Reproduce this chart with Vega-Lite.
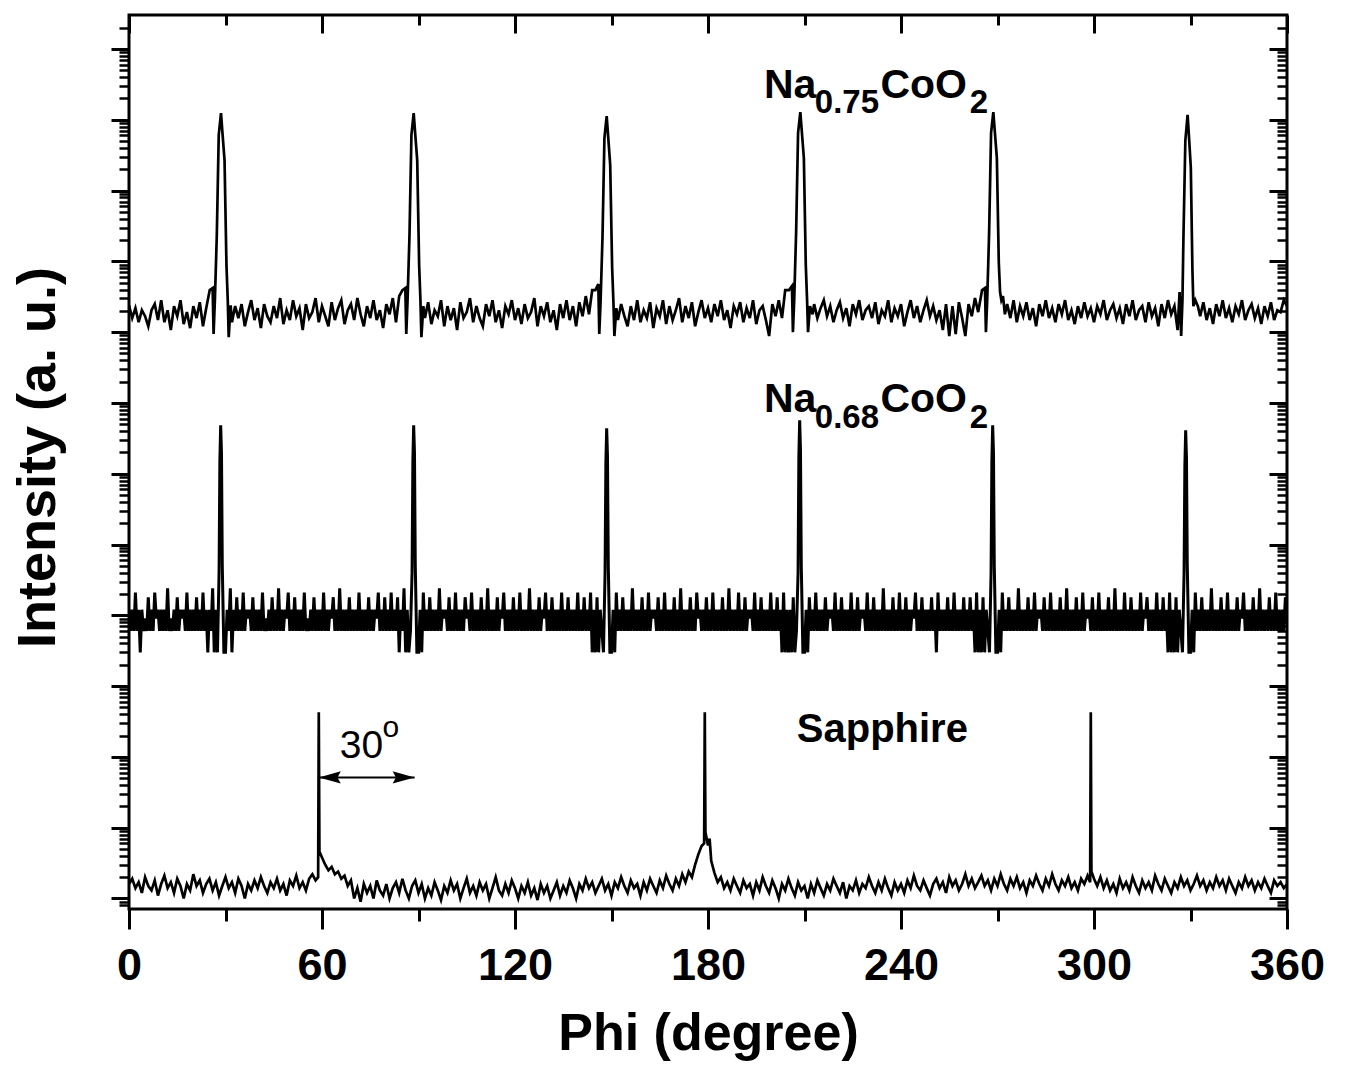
{
"$schema": "https://vega.github.io/schema/vega-lite/v6.json",
"width": 1158, "height": 894,
"autosize": {"type": "none"},
"padding": {"left": 129, "top": 15, "right": 58, "bottom": 157},
"background": "white",
"config": {"view": {"stroke": "black", "strokeWidth": 3}, "font": "Liberation Sans",
  "axis": {"labelFont": "Liberation Sans", "titleFont": "Liberation Sans", "tickColor": "black", "labelColor": "black", "titleColor": "black", "grid": false, "domain": false, "tickCap": "butt"}},
"resolve": {"axis": {"x": "independent", "y": "independent"}},
"datasets": {
"a": [{"x":0,"y":2.4e8},{"x":1,"y":1.58e8},{"x":2,"y":2.18e8},{"x":3,"y":1.38e8},{"x":4,"y":2.04e8},{"x":5,"y":1.68e8},{"x":6,"y":1.21e8},{"x":7,"y":2.04e8},{"x":8,"y":2.49e8},{"x":9,"y":1.48e8},{"x":10,"y":2.83e8},{"x":11,"y":1.38e8},{"x":12,"y":2.04e8},{"x":13,"y":1.07e8},{"x":14,"y":2.33e8},{"x":15,"y":1.68e8},{"x":16,"y":2.83e8},{"x":17,"y":1.3e8},{"x":18,"y":1.92e8},{"x":19,"y":1.14e8},{"x":20,"y":2.33e8},{"x":21,"y":1.58e8},{"x":22,"y":2.65e8},{"x":23,"y":1.21e8},{"x":24,"y":2.18e8},
{"x":25.1,"y":3.93e8},{"x":26,"y":4.19e8},{"x":26.3,"y":9.4e7},{"x":26.7,"y":2.83e8},{"x":27.3,"y":2.35e9},{"x":27.9,"y":6.1e10},{"x":28.6,"y":1.245e11},{"x":29.1,"y":6.1e10},{"x":29.7,"y":2.7e10},{"x":30.3,"y":8.85e8},{"x":30.7,"y":2.83e8},{"x":31,"y":8.5e7},{"x":31.6,"y":2.4e8},
{"x":32,"y":1.38e8},{"x":33,"y":2.33e8},{"x":34,"y":1.58e8},{"x":35,"y":2.49e8},{"x":36,"y":1.21e8},{"x":37,"y":1.92e8},{"x":38,"y":2.83e8},{"x":39,"y":1.48e8},{"x":40,"y":2.18e8},{"x":41,"y":1.14e8},{"x":42,"y":2.49e8},{"x":43,"y":1.68e8},{"x":44,"y":1.38e8},{"x":45,"y":2.33e8},{"x":46,"y":1.58e8},{"x":47,"y":3.03e8},{"x":48,"y":1.3e8},{"x":49,"y":2.04e8},{"x":50,"y":1.48e8},{"x":51,"y":2.83e8},{"x":52,"y":1.68e8},{"x":53,"y":2.18e8},{"x":54,"y":1.07e8},{"x":55,"y":2.49e8},{"x":56,"y":1.58e8},{"x":57,"y":1.92e8},{"x":58,"y":3.03e8},{"x":59,"y":1.38e8},{"x":60,"y":2.33e8},{"x":61,"y":1.68e8},{"x":62,"y":1.21e8},{"x":63,"y":2.65e8},{"x":64,"y":1.48e8},{"x":65,"y":2.18e8},{"x":66,"y":2.83e8},{"x":67,"y":1.3e8},{"x":68,"y":2.04e8},{"x":69,"y":2.49e8},{"x":70,"y":1.48e8},{"x":71,"y":3.03e8},{"x":72,"y":1.79e8},{"x":73,"y":1.21e8},{"x":74,"y":2.33e8},{"x":75,"y":1.58e8},{"x":76,"y":2.83e8},{"x":77,"y":1.48e8},{"x":78,"y":2.04e8},{"x":79,"y":1.14e8},{"x":80,"y":2.49e8},{"x":81,"y":1.79e8},{"x":82,"y":3.03e8},{"x":83,"y":1.38e8},{"x":84,"y":3.23e8},
{"x":85,"y":3.93e8},{"x":85.9,"y":4.19e8},{"x":86.2,"y":9.4e7},{"x":86.6,"y":2.83e8},{"x":87.2,"y":2.35e9},{"x":87.8,"y":6.1e10},{"x":88.5,"y":1.245e11},{"x":89,"y":6.1e10},{"x":89.6,"y":2.7e10},{"x":90.2,"y":8.85e8},{"x":90.6,"y":2.83e8},{"x":90.9,"y":8.5e7},{"x":91.5,"y":2.33e8},
{"x":92,"y":1.58e8},{"x":93,"y":2.65e8},{"x":94,"y":1.3e8},{"x":95,"y":2.04e8},{"x":96,"y":1.68e8},{"x":97,"y":2.83e8},{"x":98,"y":1.21e8},{"x":99,"y":2.33e8},{"x":100,"y":1.48e8},{"x":101,"y":2.18e8},{"x":102,"y":1.07e8},{"x":103,"y":2.65e8},{"x":104,"y":1.58e8},{"x":105,"y":1.92e8},{"x":106,"y":3.03e8},{"x":107,"y":1.38e8},{"x":108,"y":2.33e8},{"x":109,"y":1.58e8},{"x":110,"y":1.21e8},{"x":111,"y":2.49e8},{"x":112,"y":1.68e8},{"x":113,"y":2.83e8},{"x":114,"y":1.38e8},{"x":115,"y":2.04e8},{"x":116,"y":1.14e8},{"x":117,"y":2.33e8},{"x":118,"y":1.79e8},{"x":119,"y":2.83e8},{"x":120,"y":1.48e8},{"x":121,"y":2.18e8},{"x":122,"y":1.3e8},{"x":123,"y":2.49e8},{"x":124,"y":1.58e8},{"x":125,"y":1.92e8},{"x":126,"y":3.03e8},{"x":127,"y":1.21e8},{"x":128,"y":2.33e8},{"x":129,"y":1.68e8},{"x":130,"y":2.65e8},{"x":131,"y":1.38e8},{"x":132,"y":2.04e8},{"x":133,"y":1.07e8},{"x":134,"y":2.49e8},{"x":135,"y":1.58e8},{"x":136,"y":2.83e8},{"x":137,"y":1.48e8},{"x":138,"y":2.33e8},{"x":139,"y":1.21e8},{"x":140,"y":2.65e8},{"x":141,"y":1.68e8},{"x":142,"y":3.23e8},{"x":143,"y":1.79e8},{"x":144,"y":3.93e8},
{"x":145,"y":3.93e8},{"x":145.9,"y":4.78e8},{"x":146.2,"y":9.4e7},{"x":146.6,"y":2.65e8},{"x":147.2,"y":2.2e9},{"x":147.8,"y":5.5e10},{"x":148.5,"y":1.13e11},{"x":149,"y":5.5e10},{"x":149.6,"y":2.3e10},{"x":150.2,"y":8.1e8},{"x":150.6,"y":2.65e8},{"x":150.9,"y":8.8e7},{"x":151.5,"y":2.18e8},
{"x":152,"y":1.48e8},{"x":153,"y":2.49e8},{"x":154,"y":1.68e8},{"x":155,"y":1.21e8},{"x":156,"y":2.33e8},{"x":157,"y":1.48e8},{"x":158,"y":2.83e8},{"x":159,"y":1.38e8},{"x":160,"y":2.04e8},{"x":161,"y":1.58e8},{"x":162,"y":2.65e8},{"x":163,"y":1.14e8},{"x":164,"y":2.18e8},{"x":165,"y":1.68e8},{"x":166,"y":2.83e8},{"x":167,"y":1.3e8},{"x":168,"y":2.33e8},{"x":169,"y":1.48e8},{"x":170,"y":2.04e8},{"x":171,"y":3.03e8},{"x":172,"y":1.38e8},{"x":173,"y":2.33e8},{"x":174,"y":1.58e8},{"x":175,"y":2.65e8},{"x":176,"y":1.21e8},{"x":177,"y":1.92e8},{"x":178,"y":2.83e8},{"x":179,"y":1.58e8},{"x":180,"y":2.18e8},{"x":181,"y":1.38e8},{"x":182,"y":2.49e8},{"x":183,"y":1.68e8},{"x":184,"y":2.83e8},{"x":185,"y":1.48e8},{"x":186,"y":2.04e8},{"x":187,"y":1.14e8},{"x":188,"y":2.33e8},{"x":189,"y":1.79e8},{"x":190,"y":2.65e8},{"x":191,"y":1.38e8},{"x":192,"y":2.18e8},{"x":193,"y":1.58e8},{"x":194,"y":2.83e8},{"x":195,"y":1.3e8},{"x":196,"y":2.04e8},{"x":197,"y":2.33e8},{"x":198,"y":1.48e8},{"x":199,"y":8.8e7},{"x":200,"y":2.49e8},{"x":201,"y":1.68e8},{"x":202,"y":2.83e8},{"x":203,"y":1.58e8},{"x":204,"y":3.93e8},
{"x":205.2,"y":3.93e8},{"x":206.1,"y":4.48e8},{"x":206.4,"y":1.0e8},{"x":206.8,"y":2.83e8},{"x":207.4,"y":2.6e9},{"x":208,"y":6.5e10},{"x":208.7,"y":1.285e11},{"x":209.2,"y":6.5e10},{"x":209.8,"y":2.9e10},{"x":210.4,"y":8.85e8},{"x":210.8,"y":2.83e8},{"x":211.1,"y":1.0e8},{"x":211.7,"y":2.33e8},
{"x":212.5,"y":1.79e8},{"x":213,"y":2.49e8},{"x":214,"y":1.58e8},{"x":215,"y":2.18e8},{"x":216,"y":2.83e8},{"x":217,"y":1.68e8},{"x":218,"y":2.33e8},{"x":219,"y":1.38e8},{"x":220,"y":2.04e8},{"x":221,"y":2.65e8},{"x":222,"y":1.58e8},{"x":223,"y":2.18e8},{"x":224,"y":1.21e8},{"x":225,"y":2.49e8},{"x":226,"y":1.79e8},{"x":227,"y":2.83e8},{"x":228,"y":1.48e8},{"x":229,"y":2.04e8},{"x":230,"y":2.33e8},{"x":231,"y":1.58e8},{"x":232,"y":2.65e8},{"x":233,"y":1.3e8},{"x":234,"y":2.04e8},{"x":235,"y":1.68e8},{"x":236,"y":2.83e8},{"x":237,"y":1.38e8},{"x":238,"y":2.18e8},{"x":239,"y":1.68e8},{"x":240,"y":2.49e8},{"x":241,"y":1.21e8},{"x":242,"y":1.92e8},{"x":243,"y":2.83e8},{"x":244,"y":1.58e8},{"x":245,"y":2.33e8},{"x":246,"y":1.38e8},{"x":247,"y":2.04e8},{"x":248,"y":2.83e8},{"x":249,"y":1.68e8},{"x":250,"y":2.33e8},{"x":251,"y":1.48e8},{"x":252,"y":2.04e8},{"x":253,"y":1.07e8},{"x":254,"y":2.49e8},{"x":255,"y":8.8e7},{"x":256,"y":2.33e8},{"x":257,"y":9.4e7},{"x":258,"y":2.65e8},{"x":259,"y":1.58e8},{"x":260,"y":8.8e7},{"x":261,"y":2.49e8},{"x":262,"y":1.68e8},{"x":263,"y":3.03e8},{"x":264,"y":1.92e8},
{"x":265.2,"y":3.93e8},{"x":266.1,"y":4.19e8},{"x":266.4,"y":1.0e8},{"x":266.8,"y":2.83e8},{"x":267.4,"y":2.6e9},{"x":268,"y":6.5e10},{"x":268.7,"y":1.285e11},{"x":269.2,"y":6.5e10},{"x":269.8,"y":2.9e10},{"x":270.4,"y":9.7e8},{"x":270.8,"y":3.68e8},{"x":271.2,"y":2.83e8},{"x":271.7,"y":3.23e8},
{"x":272.3,"y":1.79e8},{"x":273,"y":2.49e8},{"x":274,"y":1.58e8},{"x":275,"y":2.83e8},{"x":276,"y":1.38e8},{"x":277,"y":2.33e8},{"x":278,"y":1.68e8},{"x":279,"y":2.65e8},{"x":280,"y":1.48e8},{"x":281,"y":2.18e8},{"x":282,"y":1.21e8},{"x":283,"y":2.49e8},{"x":284,"y":1.68e8},{"x":285,"y":2.83e8},{"x":286,"y":1.58e8},{"x":287,"y":2.18e8},{"x":288,"y":1.38e8},{"x":289,"y":2.49e8},{"x":290,"y":1.79e8},{"x":291,"y":2.83e8},{"x":292,"y":1.48e8},{"x":293,"y":2.04e8},{"x":294,"y":1.3e8},{"x":295,"y":2.33e8},{"x":296,"y":1.58e8},{"x":297,"y":2.65e8},{"x":298,"y":1.68e8},{"x":299,"y":2.18e8},{"x":300,"y":1.38e8},{"x":301,"y":2.33e8},{"x":302,"y":1.79e8},{"x":303,"y":2.83e8},{"x":304,"y":1.48e8},{"x":305,"y":2.04e8},{"x":306,"y":2.49e8},{"x":307,"y":1.58e8},{"x":308,"y":2.18e8},{"x":309,"y":1.3e8},{"x":310,"y":2.49e8},{"x":311,"y":1.68e8},{"x":312,"y":2.83e8},{"x":313,"y":1.48e8},{"x":314,"y":2.04e8},{"x":315,"y":2.33e8},{"x":316,"y":1.38e8},{"x":317,"y":2.65e8},{"x":318,"y":1.68e8},{"x":319,"y":2.18e8},{"x":320,"y":1.21e8},{"x":321,"y":2.49e8},{"x":322,"y":1.58e8},{"x":323,"y":2.83e8},{"x":324,"y":1.79e8},{"x":325,"y":2.33e8},{"x":326,"y":1.07e8},
{"x":326.6,"y":3.68e8},{"x":327.1,"y":8.8e7},{"x":327.5,"y":2.83e8},{"x":327.8,"y":2.1e9},{"x":328.4,"y":5.1e10},{"x":329.1,"y":1.17e11},{"x":329.6,"y":5.1e10},{"x":330.1,"y":2.1e10},{"x":330.6,"y":7.5e8},{"x":330.9,"y":2.33e8},{"x":331.5,"y":2.83e8},
{"x":332.3,"y":2.33e8},{"x":333,"y":1.68e8},{"x":334,"y":2.65e8},{"x":335,"y":1.48e8},{"x":336,"y":2.18e8},{"x":337,"y":1.3e8},{"x":338,"y":2.49e8},{"x":339,"y":1.68e8},{"x":340,"y":2.83e8},{"x":341,"y":1.58e8},{"x":342,"y":2.18e8},{"x":343,"y":1.38e8},{"x":344,"y":2.33e8},{"x":345,"y":1.79e8},{"x":346,"y":2.83e8},{"x":347,"y":1.48e8},{"x":348,"y":2.04e8},{"x":349,"y":2.49e8},{"x":350,"y":1.58e8},{"x":351,"y":2.18e8},{"x":352,"y":1.3e8},{"x":353,"y":2.33e8},{"x":354,"y":1.68e8},{"x":355,"y":2.65e8},{"x":356,"y":1.48e8},{"x":357,"y":2.04e8},{"x":358,"y":1.92e8},{"x":359,"y":2.83e8},{"x":360,"y":2.33e8}],
"b": [{"x":0,"y":12000},{"x":0.5,"y":6000},{"x":1,"y":12000},{"x":1.5,"y":6000},{"x":2,"y":21000},{"x":2.5,"y":6000},{"x":3,"y":12000},{"x":3.5,"y":3000},{"x":4,"y":12000},{"x":4.5,"y":6000},{"x":5,"y":9000},{"x":5.5,"y":6000},{"x":6,"y":18000},{"x":6.5,"y":6000},{"x":7,"y":12000},{"x":7.5,"y":6000},{"x":8,"y":21000},{"x":8.5,"y":9000},{"x":9,"y":12000},{"x":9.5,"y":6000},
{"x":10,"y":12000},{"x":10.5,"y":6000},{"x":11,"y":12000},{"x":11.5,"y":6000},{"x":12,"y":24000},{"x":12.5,"y":6000},{"x":13,"y":9000},{"x":13.5,"y":6000},{"x":14,"y":12000},{"x":14.5,"y":6000},{"x":15,"y":18000},{"x":15.5,"y":6000},{"x":16,"y":12000},{"x":16.5,"y":9000},{"x":17,"y":12000},{"x":17.5,"y":6000},{"x":18,"y":21000},{"x":18.5,"y":6000},{"x":19,"y":12000},{"x":19.5,"y":6000},
{"x":20,"y":12000},{"x":20.5,"y":6000},{"x":21,"y":18000},{"x":21.5,"y":6000},{"x":22,"y":12000},{"x":22.5,"y":6000},{"x":23,"y":21000},{"x":23.5,"y":6000},{"x":24,"y":12000},{"x":24.5,"y":3000},{"x":25,"y":12000},{"x":25.5,"y":6000},{"x":26,"y":24000},{"x":26.5,"y":3000},{"x":27,"y":12000},{"x":27.5,"y":3000},
{"x":28,"y":40000},{"x":28.25,"y":1.5e6},{"x":28.5,"y":4.85e6},{"x":28.75,"y":2e6},{"x":29,"y":50000},{"x":29.5,"y":3000},
{"x":30,"y":3000},{"x":30.5,"y":12000},{"x":31,"y":6000},{"x":31.5,"y":24000},{"x":32,"y":3000},{"x":32.5,"y":12000},{"x":33,"y":6000},{"x":33.5,"y":18000},{"x":34,"y":6000},{"x":34.5,"y":12000},{"x":35,"y":6000},{"x":35.5,"y":21000},{"x":36,"y":6000},{"x":36.5,"y":12000},{"x":37,"y":9000},{"x":37.5,"y":12000},{"x":38,"y":6000},{"x":38.5,"y":18000},{"x":39,"y":6000},{"x":39.5,"y":12000},
{"x":40,"y":6000},{"x":40.5,"y":12000},{"x":41,"y":6000},{"x":41.5,"y":21000},{"x":42,"y":6000},{"x":42.5,"y":9000},{"x":43,"y":6000},{"x":43.5,"y":12000},{"x":44,"y":6000},{"x":44.5,"y":18000},{"x":45,"y":6000},{"x":45.5,"y":12000},{"x":46,"y":6000},{"x":46.5,"y":24000},{"x":47,"y":6000},{"x":47.5,"y":12000},{"x":48,"y":6000},{"x":48.5,"y":12000},{"x":49,"y":9000},{"x":49.5,"y":21000},
{"x":50,"y":6000},{"x":50.5,"y":12000},{"x":51,"y":6000},{"x":51.5,"y":18000},{"x":52,"y":6000},{"x":52.5,"y":12000},{"x":53,"y":6000},{"x":53.5,"y":12000},{"x":54,"y":6000},{"x":54.5,"y":21000},{"x":55,"y":6000},{"x":55.5,"y":9000},{"x":56,"y":6000},{"x":56.5,"y":12000},{"x":57,"y":6000},{"x":57.5,"y":18000},{"x":58,"y":6000},{"x":58.5,"y":12000},{"x":59,"y":6000},{"x":59.5,"y":12000},
{"x":60,"y":6000},{"x":60.5,"y":21000},{"x":61,"y":6000},{"x":61.5,"y":12000},{"x":62,"y":6000},{"x":62.5,"y":12000},{"x":63,"y":9000},{"x":63.5,"y":18000},{"x":64,"y":6000},{"x":64.5,"y":12000},{"x":65,"y":6000},{"x":65.5,"y":24000},{"x":66,"y":6000},{"x":66.5,"y":12000},{"x":67,"y":6000},{"x":67.5,"y":12000},{"x":68,"y":6000},{"x":68.5,"y":18000},{"x":69,"y":6000},{"x":69.5,"y":12000},
{"x":70,"y":6000},{"x":70.5,"y":12000},{"x":71,"y":6000},{"x":71.5,"y":21000},{"x":72,"y":6000},{"x":72.5,"y":12000},{"x":73,"y":6000},{"x":73.5,"y":12000},{"x":74,"y":6000},{"x":74.5,"y":18000},{"x":75,"y":6000},{"x":75.5,"y":12000},{"x":76,"y":6000},{"x":76.5,"y":12000},{"x":77,"y":9000},{"x":77.5,"y":21000},{"x":78,"y":6000},{"x":78.5,"y":12000},{"x":79,"y":6000},{"x":79.5,"y":18000},
{"x":80,"y":6000},{"x":80.5,"y":12000},{"x":81,"y":6000},{"x":81.5,"y":21000},{"x":82,"y":6000},{"x":82.5,"y":12000},{"x":83,"y":6000},{"x":83.5,"y":18000},{"x":84,"y":3000},{"x":84.5,"y":12000},{"x":85,"y":6000},{"x":85.5,"y":24000},{"x":86,"y":3000},{"x":86.5,"y":12000},{"x":87,"y":3000},{"x":87.5,"y":6000},
{"x":88,"y":40000},{"x":88.25,"y":1.5e6},{"x":88.5,"y":4.85e6},{"x":88.75,"y":2e6},{"x":89,"y":50000},{"x":89.5,"y":3000},
{"x":90,"y":3000},{"x":90.5,"y":12000},{"x":91,"y":3000},{"x":91.5,"y":21000},{"x":92,"y":6000},{"x":92.5,"y":12000},{"x":93,"y":6000},{"x":93.5,"y":18000},{"x":94,"y":6000},{"x":94.5,"y":12000},{"x":95,"y":6000},{"x":95.5,"y":12000},{"x":96,"y":6000},{"x":96.5,"y":24000},{"x":97,"y":6000},{"x":97.5,"y":12000},{"x":98,"y":9000},{"x":98.5,"y":12000},{"x":99,"y":6000},{"x":99.5,"y":18000},
{"x":100,"y":6000},{"x":100.5,"y":12000},{"x":101,"y":6000},{"x":101.5,"y":21000},{"x":102,"y":6000},{"x":102.5,"y":12000},{"x":103,"y":6000},{"x":103.5,"y":12000},{"x":104,"y":6000},{"x":104.5,"y":18000},{"x":105,"y":9000},{"x":105.5,"y":12000},{"x":106,"y":6000},{"x":106.5,"y":21000},{"x":107,"y":6000},{"x":107.5,"y":12000},{"x":108,"y":6000},{"x":108.5,"y":12000},{"x":109,"y":6000},{"x":109.5,"y":18000},
{"x":110,"y":6000},{"x":110.5,"y":12000},{"x":111,"y":6000},{"x":111.5,"y":24000},{"x":112,"y":6000},{"x":112.5,"y":12000},{"x":113,"y":6000},{"x":113.5,"y":12000},{"x":114,"y":6000},{"x":114.5,"y":18000},{"x":115,"y":6000},{"x":115.5,"y":12000},{"x":116,"y":9000},{"x":116.5,"y":21000},{"x":117,"y":6000},{"x":117.5,"y":12000},{"x":118,"y":6000},{"x":118.5,"y":12000},{"x":119,"y":6000},{"x":119.5,"y":18000},
{"x":120,"y":6000},{"x":120.5,"y":12000},{"x":121,"y":6000},{"x":121.5,"y":21000},{"x":122,"y":6000},{"x":122.5,"y":12000},{"x":123,"y":6000},{"x":123.5,"y":12000},{"x":124,"y":6000},{"x":124.5,"y":24000},{"x":125,"y":6000},{"x":125.5,"y":12000},{"x":126,"y":6000},{"x":126.5,"y":12000},{"x":127,"y":6000},{"x":127.5,"y":18000},{"x":128,"y":6000},{"x":128.5,"y":12000},{"x":129,"y":9000},{"x":129.5,"y":21000},
{"x":130,"y":6000},{"x":130.5,"y":12000},{"x":131,"y":6000},{"x":131.5,"y":18000},{"x":132,"y":6000},{"x":132.5,"y":12000},{"x":133,"y":6000},{"x":133.5,"y":12000},{"x":134,"y":6000},{"x":134.5,"y":21000},{"x":135,"y":6000},{"x":135.5,"y":12000},{"x":136,"y":6000},{"x":136.5,"y":18000},{"x":137,"y":6000},{"x":137.5,"y":12000},{"x":138,"y":6000},{"x":138.5,"y":12000},{"x":139,"y":6000},{"x":139.5,"y":21000},
{"x":140,"y":6000},{"x":140.5,"y":12000},{"x":141,"y":6000},{"x":141.5,"y":18000},{"x":142,"y":6000},{"x":142.5,"y":12000},{"x":143,"y":6000},{"x":143.5,"y":21000},{"x":144,"y":3000},{"x":144.5,"y":12000},{"x":145,"y":3000},{"x":145.5,"y":18000},{"x":146,"y":3000},{"x":146.5,"y":12000},{"x":147,"y":6000},{"x":147.5,"y":3000},
{"x":148,"y":40000},{"x":148.25,"y":1.4e6},{"x":148.5,"y":4.4e6},{"x":148.75,"y":1.8e6},{"x":149,"y":50000},{"x":149.5,"y":3000},
{"x":150,"y":3000},{"x":150.5,"y":12000},{"x":151,"y":3000},{"x":151.5,"y":21000},{"x":152,"y":6000},{"x":152.5,"y":12000},{"x":153,"y":6000},{"x":153.5,"y":18000},{"x":154,"y":6000},{"x":154.5,"y":12000},{"x":155,"y":6000},{"x":155.5,"y":12000},{"x":156,"y":6000},{"x":156.5,"y":24000},{"x":157,"y":6000},{"x":157.5,"y":12000},{"x":158,"y":6000},{"x":158.5,"y":12000},{"x":159,"y":6000},{"x":159.5,"y":18000},
{"x":160,"y":6000},{"x":160.5,"y":12000},{"x":161,"y":6000},{"x":161.5,"y":21000},{"x":162,"y":6000},{"x":162.5,"y":12000},{"x":163,"y":9000},{"x":163.5,"y":12000},{"x":164,"y":6000},{"x":164.5,"y":18000},{"x":165,"y":6000},{"x":165.5,"y":12000},{"x":166,"y":6000},{"x":166.5,"y":21000},{"x":167,"y":6000},{"x":167.5,"y":12000},{"x":168,"y":6000},{"x":168.5,"y":12000},{"x":169,"y":6000},{"x":169.5,"y":18000},
{"x":170,"y":6000},{"x":170.5,"y":12000},{"x":171,"y":6000},{"x":171.5,"y":24000},{"x":172,"y":6000},{"x":172.5,"y":12000},{"x":173,"y":6000},{"x":173.5,"y":12000},{"x":174,"y":6000},{"x":174.5,"y":18000},{"x":175,"y":6000},{"x":175.5,"y":12000},{"x":176,"y":6000},{"x":176.5,"y":21000},{"x":177,"y":9000},{"x":177.5,"y":12000},{"x":178,"y":6000},{"x":178.5,"y":12000},{"x":179,"y":6000},{"x":179.5,"y":18000},
{"x":180,"y":6000},{"x":180.5,"y":12000},{"x":181,"y":6000},{"x":181.5,"y":21000},{"x":182,"y":6000},{"x":182.5,"y":12000},{"x":183,"y":6000},{"x":183.5,"y":12000},{"x":184,"y":6000},{"x":184.5,"y":18000},{"x":185,"y":6000},{"x":185.5,"y":12000},{"x":186,"y":6000},{"x":186.5,"y":24000},{"x":187,"y":6000},{"x":187.5,"y":12000},{"x":188,"y":6000},{"x":188.5,"y":12000},{"x":189,"y":6000},{"x":189.5,"y":21000},
{"x":190,"y":6000},{"x":190.5,"y":12000},{"x":191,"y":6000},{"x":191.5,"y":18000},{"x":192,"y":6000},{"x":192.5,"y":12000},{"x":193,"y":9000},{"x":193.5,"y":12000},{"x":194,"y":6000},{"x":194.5,"y":21000},{"x":195,"y":6000},{"x":195.5,"y":12000},{"x":196,"y":6000},{"x":196.5,"y":18000},{"x":197,"y":6000},{"x":197.5,"y":12000},{"x":198,"y":6000},{"x":198.5,"y":12000},{"x":199,"y":6000},{"x":199.5,"y":21000},
{"x":200,"y":6000},{"x":200.5,"y":12000},{"x":201,"y":6000},{"x":201.5,"y":18000},{"x":202,"y":6000},{"x":202.5,"y":12000},{"x":203,"y":3000},{"x":203.5,"y":21000},{"x":204,"y":3000},{"x":204.5,"y":12000},{"x":205,"y":3000},{"x":205.5,"y":12000},{"x":206,"y":3000},{"x":206.5,"y":18000},{"x":207,"y":3000},{"x":207.5,"y":6000},
{"x":208,"y":40000},{"x":208.25,"y":1.8e6},{"x":208.5,"y":5.7e6},{"x":208.75,"y":2.2e6},{"x":209,"y":50000},{"x":209.5,"y":3000},
{"x":210,"y":3000},{"x":210.5,"y":12000},{"x":211,"y":3000},{"x":211.5,"y":18000},{"x":212,"y":6000},{"x":212.5,"y":12000},{"x":213,"y":6000},{"x":213.5,"y":21000},{"x":214,"y":6000},{"x":214.5,"y":12000},{"x":215,"y":6000},{"x":215.5,"y":12000},{"x":216,"y":6000},{"x":216.5,"y":18000},{"x":217,"y":6000},{"x":217.5,"y":12000},{"x":218,"y":9000},{"x":218.5,"y":12000},{"x":219,"y":6000},{"x":219.5,"y":21000},
{"x":220,"y":6000},{"x":220.5,"y":12000},{"x":221,"y":6000},{"x":221.5,"y":18000},{"x":222,"y":6000},{"x":222.5,"y":12000},{"x":223,"y":6000},{"x":223.5,"y":12000},{"x":224,"y":6000},{"x":224.5,"y":21000},{"x":225,"y":6000},{"x":225.5,"y":12000},{"x":226,"y":6000},{"x":226.5,"y":18000},{"x":227,"y":6000},{"x":227.5,"y":12000},{"x":228,"y":9000},{"x":228.5,"y":12000},{"x":229,"y":6000},{"x":229.5,"y":21000},
{"x":230,"y":6000},{"x":230.5,"y":12000},{"x":231,"y":6000},{"x":231.5,"y":18000},{"x":232,"y":6000},{"x":232.5,"y":12000},{"x":233,"y":6000},{"x":233.5,"y":12000},{"x":234,"y":6000},{"x":234.5,"y":24000},{"x":235,"y":6000},{"x":235.5,"y":12000},{"x":236,"y":6000},{"x":236.5,"y":12000},{"x":237,"y":6000},{"x":237.5,"y":18000},{"x":238,"y":6000},{"x":238.5,"y":12000},{"x":239,"y":6000},{"x":239.5,"y":21000},
{"x":240,"y":6000},{"x":240.5,"y":12000},{"x":241,"y":6000},{"x":241.5,"y":18000},{"x":242,"y":6000},{"x":242.5,"y":12000},{"x":243,"y":6000},{"x":243.5,"y":12000},{"x":244,"y":9000},{"x":244.5,"y":21000},{"x":245,"y":6000},{"x":245.5,"y":12000},{"x":246,"y":6000},{"x":246.5,"y":18000},{"x":247,"y":6000},{"x":247.5,"y":12000},{"x":248,"y":6000},{"x":248.5,"y":12000},{"x":249,"y":6000},{"x":249.5,"y":18000},
{"x":250,"y":6000},{"x":250.5,"y":12000},{"x":251,"y":3000},{"x":251.5,"y":21000},{"x":252,"y":6000},{"x":252.5,"y":12000},{"x":253,"y":6000},{"x":253.5,"y":12000},{"x":254,"y":6000},{"x":254.5,"y":18000},{"x":255,"y":6000},{"x":255.5,"y":12000},{"x":256,"y":6000},{"x":256.5,"y":21000},{"x":257,"y":6000},{"x":257.5,"y":12000},{"x":258,"y":6000},{"x":258.5,"y":12000},{"x":259,"y":6000},{"x":259.5,"y":18000},
{"x":260,"y":6000},{"x":260.5,"y":12000},{"x":261,"y":6000},{"x":261.5,"y":18000},{"x":262,"y":6000},{"x":262.5,"y":12000},{"x":263,"y":3000},{"x":263.5,"y":21000},{"x":264,"y":3000},{"x":264.5,"y":12000},{"x":265,"y":3000},{"x":265.5,"y":18000},{"x":266,"y":3000},{"x":266.5,"y":12000},{"x":267,"y":6000},{"x":267.5,"y":3000},
{"x":268,"y":40000},{"x":268.25,"y":1.5e6},{"x":268.5,"y":4.85e6},{"x":268.75,"y":2e6},{"x":269,"y":50000},{"x":269.5,"y":3000},
{"x":270,"y":3000},{"x":270.5,"y":12000},{"x":271,"y":3000},{"x":271.5,"y":21000},{"x":272,"y":6000},{"x":272.5,"y":12000},{"x":273,"y":6000},{"x":273.5,"y":18000},{"x":274,"y":6000},{"x":274.5,"y":12000},{"x":275,"y":6000},{"x":275.5,"y":12000},{"x":276,"y":6000},{"x":276.5,"y":24000},{"x":277,"y":6000},{"x":277.5,"y":12000},{"x":278,"y":6000},{"x":278.5,"y":12000},{"x":279,"y":6000},{"x":279.5,"y":18000},
{"x":280,"y":6000},{"x":280.5,"y":12000},{"x":281,"y":6000},{"x":281.5,"y":21000},{"x":282,"y":6000},{"x":282.5,"y":12000},{"x":283,"y":9000},{"x":283.5,"y":12000},{"x":284,"y":6000},{"x":284.5,"y":18000},{"x":285,"y":6000},{"x":285.5,"y":12000},{"x":286,"y":6000},{"x":286.5,"y":21000},{"x":287,"y":6000},{"x":287.5,"y":12000},{"x":288,"y":6000},{"x":288.5,"y":12000},{"x":289,"y":6000},{"x":289.5,"y":18000},
{"x":290,"y":6000},{"x":290.5,"y":12000},{"x":291,"y":6000},{"x":291.5,"y":24000},{"x":292,"y":6000},{"x":292.5,"y":12000},{"x":293,"y":6000},{"x":293.5,"y":12000},{"x":294,"y":6000},{"x":294.5,"y":18000},{"x":295,"y":6000},{"x":295.5,"y":12000},{"x":296,"y":6000},{"x":296.5,"y":21000},{"x":297,"y":6000},{"x":297.5,"y":12000},{"x":298,"y":9000},{"x":298.5,"y":12000},{"x":299,"y":6000},{"x":299.5,"y":18000},
{"x":300,"y":6000},{"x":300.5,"y":12000},{"x":301,"y":6000},{"x":301.5,"y":21000},{"x":302,"y":6000},{"x":302.5,"y":12000},{"x":303,"y":6000},{"x":303.5,"y":12000},{"x":304,"y":6000},{"x":304.5,"y":18000},{"x":305,"y":6000},{"x":305.5,"y":12000},{"x":306,"y":6000},{"x":306.5,"y":24000},{"x":307,"y":6000},{"x":307.5,"y":12000},{"x":308,"y":6000},{"x":308.5,"y":12000},{"x":309,"y":6000},{"x":309.5,"y":21000},
{"x":310,"y":6000},{"x":310.5,"y":12000},{"x":311,"y":6000},{"x":311.5,"y":18000},{"x":312,"y":6000},{"x":312.5,"y":12000},{"x":313,"y":6000},{"x":313.5,"y":12000},{"x":314,"y":6000},{"x":314.5,"y":21000},{"x":315,"y":6000},{"x":315.5,"y":12000},{"x":316,"y":9000},{"x":316.5,"y":18000},{"x":317,"y":6000},{"x":317.5,"y":12000},{"x":318,"y":6000},{"x":318.5,"y":12000},{"x":319,"y":6000},{"x":319.5,"y":21000},
{"x":320,"y":6000},{"x":320.5,"y":12000},{"x":321,"y":6000},{"x":321.5,"y":18000},{"x":322,"y":6000},{"x":322.5,"y":12000},{"x":323,"y":3000},{"x":323.5,"y":21000},{"x":324,"y":3000},{"x":324.5,"y":12000},{"x":325,"y":3000},{"x":325.5,"y":18000},{"x":326,"y":3000},{"x":326.5,"y":12000},{"x":327,"y":6000},{"x":327.5,"y":3000},
{"x":328,"y":40000},{"x":328.25,"y":1.3e6},{"x":328.5,"y":4.1e6},{"x":328.75,"y":1.7e6},{"x":329,"y":50000},{"x":329.5,"y":3000},
{"x":330,"y":3000},{"x":330.5,"y":12000},{"x":331,"y":3000},{"x":331.5,"y":21000},{"x":332,"y":6000},{"x":332.5,"y":12000},{"x":333,"y":6000},{"x":333.5,"y":18000},{"x":334,"y":6000},{"x":334.5,"y":12000},{"x":335,"y":6000},{"x":335.5,"y":12000},{"x":336,"y":6000},{"x":336.5,"y":24000},{"x":337,"y":6000},{"x":337.5,"y":12000},{"x":338,"y":6000},{"x":338.5,"y":12000},{"x":339,"y":6000},{"x":339.5,"y":18000},
{"x":340,"y":6000},{"x":340.5,"y":12000},{"x":341,"y":6000},{"x":341.5,"y":21000},{"x":342,"y":6000},{"x":342.5,"y":12000},{"x":343,"y":6000},{"x":343.5,"y":12000},{"x":344,"y":6000},{"x":344.5,"y":18000},{"x":345,"y":6000},{"x":345.5,"y":12000},{"x":346,"y":9000},{"x":346.5,"y":21000},{"x":347,"y":6000},{"x":347.5,"y":12000},{"x":348,"y":6000},{"x":348.5,"y":12000},{"x":349,"y":6000},{"x":349.5,"y":18000},
{"x":350,"y":6000},{"x":350.5,"y":12000},{"x":351,"y":6000},{"x":351.5,"y":24000},{"x":352,"y":6000},{"x":352.5,"y":12000},{"x":353,"y":6000},{"x":353.5,"y":12000},{"x":354,"y":6000},{"x":354.5,"y":18000},{"x":355,"y":6000},{"x":355.5,"y":12000},{"x":356,"y":6000},{"x":356.5,"y":21000},{"x":357,"y":6000},{"x":357.5,"y":12000},{"x":358,"y":6000},{"x":358.5,"y":12000},{"x":359,"y":6000},{"x":359.5,"y":18000},{"x":360,"y":12000}],
"c": [{"x":0,"y":1.6},{"x":1,"y":1.9},{"x":2,"y":1.4},{"x":3,"y":1.7},{"x":4,"y":1.2},{"x":5,"y":2.0},{"x":6,"y":1.5},{"x":7,"y":1.3},{"x":8,"y":1.8},{"x":9,"y":1.1},{"x":10,"y":1.6},{"x":11,"y":2.1},{"x":12,"y":1.4},{"x":13,"y":1.7},{"x":14,"y":1.2},{"x":15,"y":1.9},{"x":16,"y":1.5},{"x":17,"y":1.0},{"x":18,"y":1.6},{"x":19,"y":1.3},{"x":20,"y":2.2},{"x":21,"y":1.5},{"x":22,"y":1.8},{"x":23,"y":1.2},{"x":24,"y":1.6},{"x":25,"y":1.9},{"x":26,"y":1.3},{"x":27,"y":1.7},{"x":28,"y":1.1},{"x":29,"y":1.5},{"x":30,"y":2.0},{"x":31,"y":1.4},{"x":32,"y":1.7},{"x":33,"y":1.2},{"x":34,"y":1.9},{"x":35,"y":1.5},{"x":36,"y":1.0},{"x":37,"y":1.6},{"x":38,"y":1.3},{"x":39,"y":1.8},{"x":40,"y":1.4},{"x":41,"y":2.0},{"x":42,"y":1.5},{"x":43,"y":1.2},{"x":44,"y":1.7},{"x":45,"y":1.4},{"x":46,"y":1.9},{"x":47,"y":1.3},{"x":48,"y":1.6},{"x":49,"y":1.1},{"x":50,"y":1.8},{"x":51,"y":1.5},{"x":52,"y":2.1},{"x":53,"y":1.4},{"x":54,"y":1.7},{"x":55,"y":1.3},{"x":56,"y":1.9},{"x":57,"y":2.2},{"x":58,"y":1.8},{"x":58.8,"y":2.0},{"x":59,"y":426},{"x":59.2,"y":4.6},{"x":60,"y":3.8},{"x":61,"y":3.0},{"x":62,"y":2.5},{"x":63,"y":2.8},{"x":64,"y":2.2},{"x":65,"y":2.4},{"x":66,"y":1.9},{"x":67,"y":2.1},{"x":68,"y":1.5},{"x":69,"y":1.8},{"x":70,"y":1.0},{"x":71,"y":1.4},{"x":72,"y":0.9},{"x":73,"y":1.6},{"x":74,"y":1.2},{"x":75,"y":1.5},{"x":76,"y":1.0},{"x":77,"y":1.8},{"x":78,"y":1.3},{"x":79,"y":1.1},{"x":80,"y":1.6},{"x":81,"y":1.0},{"x":82,"y":1.4},{"x":83,"y":1.7},{"x":84,"y":1.2},{"x":85,"y":1.9},{"x":86,"y":1.3},{"x":87,"y":1.0},{"x":88,"y":1.5},{"x":89,"y":1.8},{"x":90,"y":1.2},{"x":91,"y":1.6},{"x":92,"y":1.0},{"x":93,"y":1.4},{"x":94,"y":1.1},{"x":95,"y":1.7},{"x":96,"y":1.3},{"x":97,"y":0.95},{"x":98,"y":1.5},{"x":99,"y":1.2},{"x":100,"y":1.8},{"x":101,"y":1.3},{"x":102,"y":1.6},{"x":103,"y":1.0},{"x":104,"y":1.4},{"x":105,"y":1.9},{"x":106,"y":1.2},{"x":107,"y":1.5},{"x":108,"y":1.1},{"x":109,"y":1.7},{"x":110,"y":1.3},{"x":111,"y":1.6},{"x":112,"y":1.0},{"x":113,"y":1.4},{"x":114,"y":2.0},{"x":115,"y":1.3},{"x":116,"y":1.1},{"x":117,"y":1.6},{"x":118,"y":1.2},{"x":119,"y":1.8},{"x":120,"y":1.4},{"x":121,"y":1.0},{"x":122,"y":1.5},{"x":123,"y":1.2},{"x":124,"y":1.7},{"x":125,"y":1.1},{"x":126,"y":1.4},{"x":127,"y":0.95},{"x":128,"y":1.6},{"x":129,"y":1.2},{"x":130,"y":1.5},{"x":131,"y":1.0},{"x":132,"y":1.3},{"x":133,"y":1.7},{"x":134,"y":1.1},{"x":135,"y":1.5},{"x":136,"y":1.2},{"x":137,"y":1.8},{"x":138,"y":1.4},{"x":139,"y":1.0},{"x":140,"y":1.6},{"x":141,"y":1.3},{"x":142,"y":1.9},{"x":143,"y":1.4},{"x":144,"y":1.7},{"x":145,"y":1.2},{"x":146,"y":1.5},{"x":147,"y":1.9},{"x":148,"y":1.3},{"x":149,"y":1.6},{"x":150,"y":1.1},{"x":151,"y":1.7},{"x":152,"y":1.4},{"x":153,"y":2.0},{"x":154,"y":1.5},{"x":155,"y":1.2},{"x":156,"y":1.8},{"x":157,"y":1.4},{"x":158,"y":1.6},{"x":159,"y":1.1},{"x":160,"y":1.7},{"x":161,"y":1.3},{"x":162,"y":1.9},{"x":163,"y":1.5},{"x":164,"y":1.2},{"x":165,"y":1.8},{"x":166,"y":1.4},{"x":167,"y":2.1},{"x":168,"y":1.6},{"x":169,"y":1.3},{"x":170,"y":1.9},{"x":171,"y":1.5},{"x":172,"y":2.2},{"x":173,"y":1.7},{"x":174,"y":2.4},{"x":175,"y":2.0},{"x":176,"y":3.0},{"x":177,"y":4.2},{"x":178,"y":5.5},{"x":178.8,"y":6.0},{"x":179,"y":426},{"x":179.2,"y":8.6},{"x":180,"y":5.6},{"x":180.5,"y":7.0},{"x":181,"y":3.4},{"x":182,"y":2.3},{"x":183,"y":1.7},{"x":184,"y":2.0},{"x":185,"y":1.4},{"x":186,"y":1.7},{"x":187,"y":1.3},{"x":188,"y":1.9},{"x":189,"y":1.5},{"x":190,"y":1.2},{"x":191,"y":1.8},{"x":192,"y":1.4},{"x":193,"y":1.6},{"x":194,"y":1.1},{"x":195,"y":1.7},{"x":196,"y":1.3},{"x":197,"y":2.0},{"x":198,"y":1.5},{"x":199,"y":1.2},{"x":200,"y":1.8},{"x":201,"y":1.4},{"x":202,"y":1.0},{"x":203,"y":1.6},{"x":204,"y":1.3},{"x":205,"y":1.9},{"x":206,"y":1.4},{"x":207,"y":1.1},{"x":208,"y":1.7},{"x":209,"y":1.3},{"x":210,"y":1.5},{"x":211,"y":1.0},{"x":212,"y":1.6},{"x":213,"y":1.2},{"x":214,"y":1.8},{"x":215,"y":1.4},{"x":216,"y":1.1},{"x":217,"y":1.6},{"x":218,"y":1.3},{"x":219,"y":1.9},{"x":220,"y":1.5},{"x":221,"y":1.2},{"x":222,"y":1.7},{"x":223,"y":1.0},{"x":224,"y":1.5},{"x":225,"y":1.3},{"x":226,"y":1.8},{"x":227,"y":1.2},{"x":228,"y":1.6},{"x":229,"y":1.4},{"x":230,"y":2.0},{"x":231,"y":1.5},{"x":232,"y":1.2},{"x":233,"y":1.7},{"x":234,"y":1.3},{"x":235,"y":1.9},{"x":236,"y":1.4},{"x":237,"y":1.1},{"x":238,"y":1.7},{"x":239,"y":1.3},{"x":240,"y":1.6},{"x":241,"y":1.2},{"x":242,"y":1.8},{"x":243,"y":1.4},{"x":244,"y":2.1},{"x":245,"y":1.5},{"x":246,"y":1.3},{"x":247,"y":1.8},{"x":248,"y":1.4},{"x":249,"y":1.1},{"x":250,"y":1.6},{"x":251,"y":1.9},{"x":252,"y":1.4},{"x":253,"y":1.7},{"x":254,"y":1.2},{"x":255,"y":2.0},{"x":256,"y":1.5},{"x":257,"y":1.8},{"x":258,"y":1.3},{"x":259,"y":1.6},{"x":260,"y":2.2},{"x":261,"y":1.5},{"x":262,"y":1.9},{"x":263,"y":1.4},{"x":264,"y":1.7},{"x":265,"y":2.1},{"x":266,"y":1.5},{"x":267,"y":1.8},{"x":268,"y":1.3},{"x":269,"y":1.9},{"x":270,"y":1.5},{"x":271,"y":2.2},{"x":272,"y":1.6},{"x":273,"y":1.3},{"x":274,"y":1.9},{"x":275,"y":1.5},{"x":276,"y":2.0},{"x":277,"y":1.4},{"x":278,"y":1.7},{"x":279,"y":1.2},{"x":280,"y":1.8},{"x":281,"y":1.5},{"x":282,"y":2.1},{"x":283,"y":1.6},{"x":284,"y":1.3},{"x":285,"y":1.9},{"x":286,"y":1.5},{"x":287,"y":2.2},{"x":288,"y":1.6},{"x":289,"y":1.3},{"x":290,"y":1.8},{"x":291,"y":1.5},{"x":292,"y":2.0},{"x":293,"y":1.4},{"x":294,"y":1.7},{"x":295,"y":1.3},{"x":296,"y":1.9},{"x":297,"y":1.6},{"x":298,"y":2.1},{"x":298.8,"y":1.7},{"x":299,"y":426},{"x":299.2,"y":2.4},{"x":300,"y":1.9},{"x":301,"y":1.5},{"x":302,"y":2.0},{"x":303,"y":1.4},{"x":304,"y":1.8},{"x":305,"y":1.3},{"x":306,"y":1.6},{"x":307,"y":1.2},{"x":308,"y":1.9},{"x":309,"y":1.4},{"x":310,"y":1.7},{"x":311,"y":1.3},{"x":312,"y":2.0},{"x":313,"y":1.5},{"x":314,"y":1.2},{"x":315,"y":1.8},{"x":316,"y":1.4},{"x":317,"y":1.7},{"x":318,"y":1.3},{"x":319,"y":2.1},{"x":320,"y":1.6},{"x":321,"y":1.3},{"x":322,"y":1.9},{"x":323,"y":1.5},{"x":324,"y":1.2},{"x":325,"y":1.7},{"x":326,"y":1.4},{"x":327,"y":2.0},{"x":328,"y":1.5},{"x":329,"y":1.8},{"x":330,"y":1.3},{"x":331,"y":1.6},{"x":332,"y":2.1},{"x":333,"y":1.5},{"x":334,"y":1.8},{"x":335,"y":1.3},{"x":336,"y":1.7},{"x":337,"y":1.4},{"x":338,"y":2.0},{"x":339,"y":1.5},{"x":340,"y":1.8},{"x":341,"y":1.3},{"x":342,"y":1.9},{"x":343,"y":1.5},{"x":344,"y":1.2},{"x":345,"y":1.7},{"x":346,"y":1.4},{"x":347,"y":2.0},{"x":348,"y":1.5},{"x":349,"y":1.8},{"x":350,"y":1.3},{"x":351,"y":1.7},{"x":352,"y":1.4},{"x":353,"y":1.9},{"x":354,"y":1.5},{"x":355,"y":1.2},{"x":356,"y":1.8},{"x":357,"y":1.5},{"x":358,"y":1.7},{"x":359,"y":1.4},{"x":360,"y":1.6}]
},
"layer": [
{"data": {"name": "c"}, "mark": {"type": "line", "color": "black", "strokeWidth": 2.7, "clip": true},
 "encoding": {
  "x": {"field": "x", "type": "quantitative", "scale": {"domain": [0, 360], "nice": false, "zero": false},
    "axis": {"orient": "bottom", "values": [0, 60, 120, 180, 240, 300, 360], "tickSize": 20, "tickWidth": 3, "labelFontSize": 45, "labelFontWeight": "bold", "labelPadding": 14, "labelFlush": false, "labelOverlap": false,
      "title": "Phi (degree)", "titleFontSize": 52, "titleFontWeight": "bold", "titleBaseline": "alphabetic", "titleY": 140}},
  "y": {"field": "y", "type": "quantitative", "scale": {"type": "log", "domain": [0.71, 3.02e12], "nice": false},
    "axis": {"orient": "left", "values": [1, 10, 100, 1e3, 1e4, 1e5, 1e6, 1e7, 1e8, 1e9, 1e10, 1e11, 1e12], "tickSize": 18, "tickWidth": 3, "labels": false,
      "title": "Intensity (a. u.)", "titleFontSize": 54, "titleFontWeight": "bold", "titleAngle": -90, "titleBaseline": "alphabetic", "titleAlign": "center", "titleX": -75, "titleY": 442}}
 }},
{"data": {"name": "b"}, "mark": {"type": "line", "color": "black", "strokeWidth": 3, "clip": true},
 "encoding": {
  "x": {"field": "x", "type": "quantitative", "axis": {"orient": "bottom", "values": [30, 90, 150, 210, 270, 330], "tickSize": 12, "tickWidth": 3, "labels": false, "title": null}},
  "y": {"field": "y", "type": "quantitative", "axis": {"orient": "left", "values": [0.8, 0.9, 2, 3, 4, 5, 6, 7, 8, 9, 20, 30, 40, 50, 60, 70, 80, 90, 200, 300, 400, 500, 600, 700, 800, 900, 2e3, 3e3, 4e3, 5e3, 6e3, 7e3, 8e3, 9e3, 2e4, 3e4, 4e4, 5e4, 6e4, 7e4, 8e4, 9e4, 2e5, 3e5, 4e5, 5e5, 6e5, 7e5, 8e5, 9e5, 2e6, 3e6, 4e6, 5e6, 6e6, 7e6, 8e6, 9e6, 2e7, 3e7, 4e7, 5e7, 6e7, 7e7, 8e7, 9e7, 2e8, 3e8, 4e8, 5e8, 6e8, 7e8, 8e8, 9e8, 2e9, 3e9, 4e9, 5e9, 6e9, 7e9, 8e9, 9e9, 2e10, 3e10, 4e10, 5e10, 6e10, 7e10, 8e10, 9e10, 2e11, 3e11, 4e11, 5e11, 6e11, 7e11, 8e11, 9e11, 2e12], "tickSize": 10, "tickWidth": 2.5, "labels": false, "title": null}}
 }},
{"data": {"name": "a"}, "mark": {"type": "line", "color": "black", "strokeWidth": 2.7, "clip": true},
 "encoding": {
  "x": {"field": "x", "type": "quantitative", "axis": {"orient": "top", "values": [0, 60, 120, 180, 240, 300, 360], "tickSize": -18, "tickWidth": 3, "labels": false, "title": null}},
  "y": {"field": "y", "type": "quantitative", "axis": {"orient": "right", "values": [1, 10, 100, 1e3, 1e4, 1e5, 1e6, 1e7, 1e8, 1e9, 1e10, 1e11, 1e12], "tickSize": -18, "tickWidth": 3, "labels": false, "title": null}}
 }},
{"data": {"values": [{"x": 197.4, "y": 2.03e11, "t": "Na"}, {"x": 233.6, "y": 2.03e11, "t": "CoO"}, {"x": 197.4, "y": 7.4e6, "t": "Na"}, {"x": 233.6, "y": 7.4e6, "t": "CoO"}]},
 "mark": {"type": "text", "font": "Liberation Sans", "fontSize": 41, "fontWeight": "bold", "align": "left", "baseline": "alphabetic", "color": "black"},
 "encoding": {
  "x": {"field": "x", "type": "quantitative", "axis": {"orient": "top", "values": [30, 90, 150, 210, 270, 330], "tickSize": -10, "tickWidth": 3, "labels": false, "title": null}},
  "y": {"field": "y", "type": "quantitative", "axis": {"orient": "right", "values": [0.8, 0.9, 2, 3, 4, 5, 6, 7, 8, 9, 20, 30, 40, 50, 60, 70, 80, 90, 200, 300, 400, 500, 600, 700, 800, 900, 2e3, 3e3, 4e3, 5e3, 6e3, 7e3, 8e3, 9e3, 2e4, 3e4, 4e4, 5e4, 6e4, 7e4, 8e4, 9e4, 2e5, 3e5, 4e5, 5e5, 6e5, 7e5, 8e5, 9e5, 2e6, 3e6, 4e6, 5e6, 6e6, 7e6, 8e6, 9e6, 2e7, 3e7, 4e7, 5e7, 6e7, 7e7, 8e7, 9e7, 2e8, 3e8, 4e8, 5e8, 6e8, 7e8, 8e8, 9e8, 2e9, 3e9, 4e9, 5e9, 6e9, 7e9, 8e9, 9e9, 2e10, 3e10, 4e10, 5e10, 6e10, 7e10, 8e10, 9e10, 2e11, 3e11, 4e11, 5e11, 6e11, 7e11, 8e11, 9e11, 2e12], "tickSize": -10, "tickWidth": 2.5, "labels": false, "title": null}},
  "text": {"field": "t", "type": "nominal"}
 }},
{"data": {"values": [{"x": 213.2, "y": 1.245e11, "t": "0.75"}, {"x": 261.4, "y": 1.245e11, "t": "2"}, {"x": 213.2, "y": 4.4e6, "t": "0.68"}, {"x": 261.4, "y": 4.4e6, "t": "2"}]},
 "mark": {"type": "text", "font": "Liberation Sans", "fontSize": 33, "fontWeight": "bold", "align": "left", "baseline": "alphabetic", "color": "black"},
 "encoding": {
  "x": {"field": "x", "type": "quantitative", "axis": null},
  "y": {"field": "y", "type": "quantitative", "axis": null},
  "text": {"field": "t", "type": "nominal"}
 }},
{"data": {"values": [{"x": 207.6, "y": 160, "t": "Sapphire"}]},
 "mark": {"type": "text", "font": "Liberation Sans", "fontSize": 40, "fontWeight": "bold", "align": "left", "baseline": "alphabetic", "color": "black"},
 "encoding": {
  "x": {"field": "x", "type": "quantitative", "axis": null},
  "y": {"field": "y", "type": "quantitative", "axis": null},
  "text": {"field": "t", "type": "nominal"}
 }},
{"data": {"values": [{"x": 65.5, "y": 95.3, "t": "30"}]},
 "mark": {"type": "text", "font": "Liberation Sans", "fontSize": 39, "align": "left", "baseline": "alphabetic", "color": "black"},
 "encoding": {
  "x": {"field": "x", "type": "quantitative", "axis": null},
  "y": {"field": "y", "type": "quantitative", "axis": null},
  "text": {"field": "t", "type": "nominal"}
 }},
{"data": {"values": [{"x": 78.8, "y": 189, "t": "o"}]},
 "mark": {"type": "text", "font": "Liberation Sans", "fontSize": 30, "align": "left", "baseline": "alphabetic", "color": "black"},
 "encoding": {
  "x": {"field": "x", "type": "quantitative", "axis": null},
  "y": {"field": "y", "type": "quantitative", "axis": null},
  "text": {"field": "t", "type": "nominal"}
 }},
{"data": {"values": [{"x": 59, "x2": 88.8, "y": 51.3}]},
 "mark": {"type": "rule", "color": "black", "strokeWidth": 2},
 "encoding": {
  "x": {"field": "x", "type": "quantitative", "axis": null},
  "x2": {"field": "x2"},
  "y": {"field": "y", "type": "quantitative", "axis": null}
 }},
{"data": {"values": [{"x": 59, "y": 51.3}]},
 "mark": {"type": "point", "shape": "M0,0 L2,-0.55 L1.7,0 L2,0.55 Z", "filled": true, "size": 484, "color": "black", "opacity": 1, "strokeWidth": 0},
 "encoding": {
  "x": {"field": "x", "type": "quantitative", "axis": null},
  "y": {"field": "y", "type": "quantitative", "axis": null}
 }},
{"data": {"values": [{"x": 88.8, "y": 51.3}]},
 "mark": {"type": "point", "shape": "M0,0 L-2,-0.55 L-1.7,0 L-2,0.55 Z", "filled": true, "size": 484, "color": "black", "opacity": 1, "strokeWidth": 0},
 "encoding": {
  "x": {"field": "x", "type": "quantitative", "axis": null},
  "y": {"field": "y", "type": "quantitative", "axis": null}
 }}
]
}
